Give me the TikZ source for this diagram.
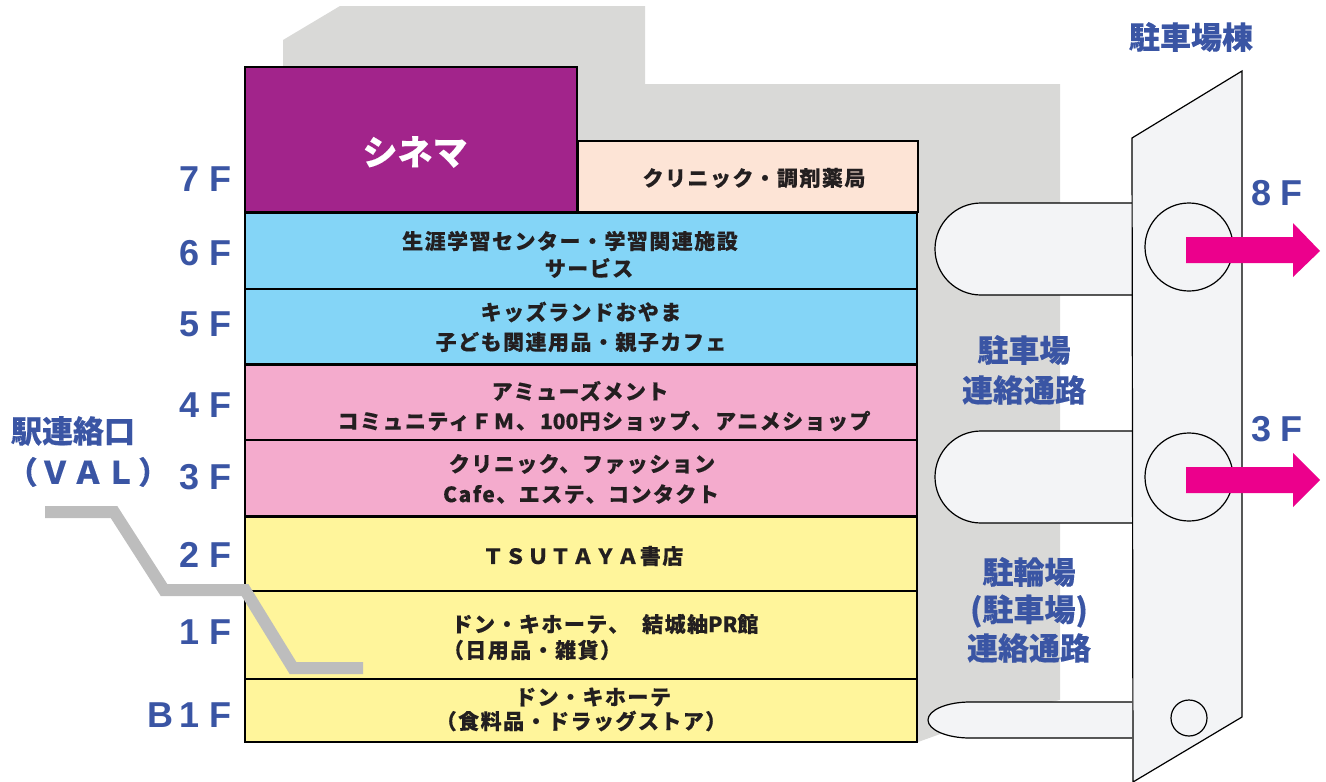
\documentclass[tikz,border=0pt]{standalone}
\usepackage{fontspec}
\setmainfont{Liberation Sans}
\newfontfamily\jpb{Noto Sans CJK JP}[LetterSpace=7,BoldFeatures={FakeBold=0.3}]
\newfontfamily\jpc{Noto Sans CJK JP}[BoldFeatures={FakeBold=0.3}]
\newfontfamily\jpd{Noto Sans CJK JP}[LetterSpace=6,BoldFeatures={FakeBold=0.3}]
\definecolor{ink}{HTML}{231F20}
\definecolor{navy}{HTML}{3A55A4}
\definecolor{mass}{HTML}{D9D9D7}
\definecolor{bldg}{HTML}{F3F4F6}
\definecolor{walk}{HTML}{BDBDBD}
\definecolor{magent}{HTML}{EC008C}
\definecolor{cinema}{HTML}{A2248B}
\definecolor{peach}{HTML}{FDE4D6}
\definecolor{sky}{HTML}{84D5F7}
\definecolor{rose}{HTML}{F4ABCD}
\definecolor{lemon}{HTML}{FFF59B}
\tikzset{
  x=1pt,y=-1pt,
  floorbox/.style={draw=black,line width=1.3pt,anchor=north west,inner sep=0pt,outer sep=0pt},
  outline/.style={draw=black,line width=2pt},
  bodytext/.style={font=\jpb\bfseries\fontsize{21}{21}\selectfont,text=ink,inner sep=0pt},
  sidetext/.style={font=\jpc\bfseries\fontsize{31}{31}\selectfont,text=navy,inner sep=0pt},
  flabel/.style={font=\bfseries\fontsize{36}{36}\selectfont,text=navy,inner sep=0pt,anchor=east},
  hole/.style={circle,draw=black,line width=1.2pt,fill=none,inner sep=0pt},
  pill/.style={draw=black,line width=1.2pt,fill=bldg},
  pinkarrow/.style={fill=magent,draw=none}
}
\begin{document}
\begin{tikzpicture}
\useasboundingbox (0,0) rectangle (1326,782);
% background mass
\fill[mass] (283,40) -- (340,6) -- (645,6) -- (645,84) -- (1060,84) -- (1060,700)
  -- (970,720) -- (943,733) -- (918,742) -- (283,742) -- cycle;
% passages
\draw[pill] (1132,203) -- (981,203) .. controls (955.6,203) and (935,223.6) .. (935,249)
  .. controls (935,274.4) and (955.6,295) .. (981,295) -- (1132,295);
\draw[pill] (1132,431) -- (981,431) .. controls (955.6,431) and (935,451.6) .. (935,477)
  .. controls (935,502.4) and (955.6,523) .. (981,523) -- (1132,523);
\draw[pill] (1132,702) -- (970,702) .. controls (947,702) and (928,710) .. (928,720)
  .. controls (928,730) and (947,738) .. (970,738) -- (1132,738);
% parking building
\draw[draw=black,line width=1.2pt,fill=bldg] (1132,138) -- (1242,71) -- (1242,717) -- (1133,782) -- cycle;
\node[hole,minimum size=88pt] (holeA) at (1189,247) {};
\node[hole,minimum size=88pt] (holeB) at (1189,477) {};
\node[hole,minimum size=36pt] (holeC) at (1189,718) {};
% arrows
\fill[pinkarrow] (1186,237) -- (1293,237) -- (1293,223) -- (1320,251) -- (1293,277) -- (1293,263) -- (1186,263) -- cycle;
\fill[pinkarrow] (1186,467) -- (1293,467) -- (1293,453) -- (1320,480) -- (1293,507) -- (1293,493) -- (1186,493) -- cycle;
% floors
\node[floorbox,fill=cinema,line width=1.6pt,minimum width=332pt,minimum height=145pt] (cine) at (245,67) {};
\node[floorbox,fill=peach,line width=1.2pt,minimum width=340pt,minimum height=71pt] (clin) at (578,141) {};
\node[floorbox,fill=sky,minimum width=672pt,minimum height=76pt] (f6) at (245,213) {};
\node[floorbox,fill=sky,minimum width=672pt,minimum height=75pt] (f5) at (245,289) {};
\node[floorbox,fill=rose,minimum width=672pt,minimum height=75pt] (f4) at (245,365) {};
\node[floorbox,fill=rose,minimum width=672pt,minimum height=76pt] (f3) at (245,440) {};
\node[floorbox,fill=lemon,minimum width=672pt,minimum height=74pt] (f2) at (245,517) {};
\node[floorbox,fill=lemon,minimum width=672pt,minimum height=88pt] (f1) at (245,591) {};
\node[floorbox,fill=lemon,minimum width=672pt,minimum height=63pt] (fb) at (245,679) {};
\draw[outline] (f6.north west) rectangle (f5.south east);
\draw[outline] (f4.north west) rectangle (f3.south east);
\draw[outline] (f2.north west) rectangle (fb.south east);
% walkway
\draw[walk,line width=12pt,line join=miter] (45,512) -- (114,512) -- (164,590) -- (245,590) -- (293,668) -- (363,668);
% texts
\node[font=\jpc\bfseries\fontsize{35}{35}\selectfont,text=white,inner sep=0pt] (tCine) at (415,152) {シネマ};
\node[bodytext] (tClin) at (754,178) {クリニック・調剤薬局};
\node[bodytext] (t6a) at (570,241) {生涯学習センター・学習関連施設};
\node[bodytext] (t6b) at (589,268) {サービス};
\node[bodytext] (t5a) at (581,312) {キッズランドおやま};
\node[bodytext] (t5b) at (581,342) {子ども関連用品・親子カフェ};
\node[bodytext] (t4a) at (580,391) {アミューズメント};
\node[bodytext] (t4b) at (604,421) {コミュニティＦＭ、\hspace{3pt}{\jpc 100}\hspace{1pt}円ショップ、\hspace{3pt}アニメショップ};
\node[bodytext] (t3a) at (582,464) {クリニック、ファッション};
\node[bodytext] (t3b) at (581,494) {Cafe、エステ、コンタクト};
\node[bodytext] (t2a) at (583,556) {ＴＳＵＴＡＹＡ書店};
\node[bodytext] (t1a) at (605,624) {ドン・キホーテ、\hspace{13pt}結城紬{\jpc PR}館};
\node[bodytext] (t1b) at (532,650) {（日用品・雑貨）};
\node[bodytext] (tba) at (593,697) {ドン・キホーテ};
\node[bodytext] (tbb) at (581,721) {（食料品・ドラッグストア）};
% floor labels
\node[flabel] (l7) at (232,179) {7 F};
\node[flabel] (l6) at (232,253) {6 F};
\node[flabel] (l5) at (232,324) {5 F};
\node[flabel] (l4) at (232,405) {4 F};
\node[flabel] (l3) at (232,477) {3 F};
\node[flabel] (l2) at (232,555) {2 F};
\node[flabel] (l1) at (232,632) {1 F};
\node[flabel] (lb) at (232,715) {B\hspace{6pt}1 F};
\node[flabel,anchor=center] (l8r) at (1277,193) {8 F};
\node[flabel,anchor=center] (l3r) at (1277,429) {3 F};
% side labels
\node[sidetext] (sBldg) at (1191,37) {駐車場棟};
\node[sidetext] (sA1) at (1024,350) {駐車場};
\node[sidetext] (sA2) at (1024,390) {連絡通路};
\node[sidetext] (sB1) at (1029,572) {駐輪場};
\node[sidetext] (sB2) at (1029,611) {(駐車場)};
\node[sidetext] (sB3) at (1029,648) {連絡通路};
\node[sidetext] (sC1) at (73,431) {駅連絡口};
\node[sidetext,font=\jpd\bfseries\fontsize{31}{31}\selectfont] (sC2) at (88,472) {（ＶＡＬ）};
\end{tikzpicture}
\end{document}
